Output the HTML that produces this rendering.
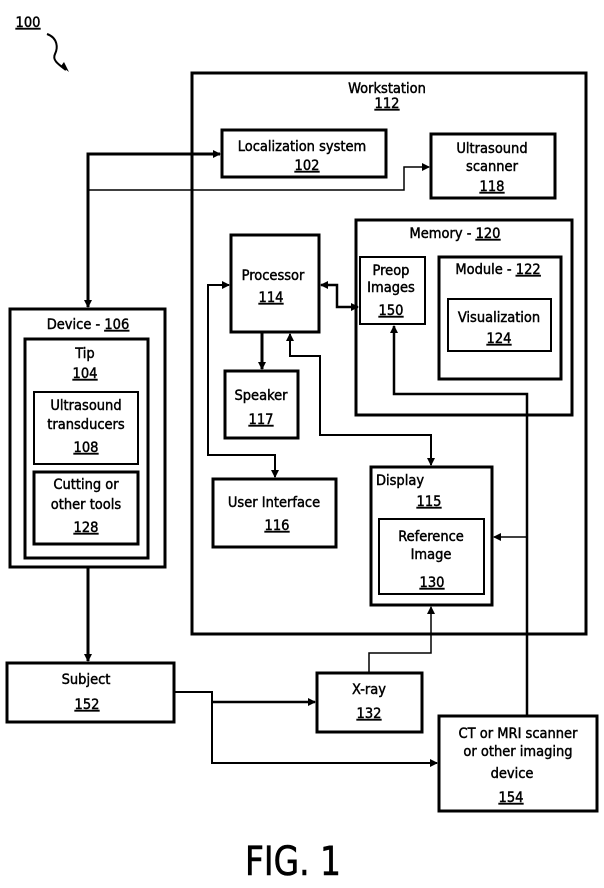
<!DOCTYPE html>
<html><head><meta charset="utf-8"><style>
html,body{margin:0;padding:0;background:#fff;}
svg{display:block;}
text{font-family:"DejaVu Sans Condensed","Liberation Sans",sans-serif;font-size:14.5px;fill:#000;stroke:#000;stroke-width:0.45;text-anchor:middle;}
.u{text-decoration:underline;}
</style></head><body>
<svg width="604" height="888" viewBox="0 0 604 888" xmlns="http://www.w3.org/2000/svg">
<defs>
<marker id="a" markerWidth="8" markerHeight="8" refX="7" refY="4" orient="auto" markerUnits="userSpaceOnUse">
<path d="M0,0 L8,4 L0,8 z" fill="#000"/></marker>
<marker id="s" markerWidth="8" markerHeight="8" refX="1" refY="4" orient="auto" markerUnits="userSpaceOnUse">
<path d="M8,0 L0,4 L8,8 z" fill="#000"/></marker>
</defs>
<g fill="none" stroke="#000">
<rect x="192" y="73" width="394" height="561" stroke-width="3"/>
<rect x="222" y="130" width="164" height="47" stroke-width="3"/>
<rect x="431" y="134" width="124" height="64" stroke-width="3"/>
<rect x="356" y="220" width="216" height="195" stroke-width="3"/>
<rect x="360" y="257" width="65" height="67" stroke-width="2"/>
<rect x="439" y="257" width="122" height="122" stroke-width="3"/>
<rect x="448" y="299" width="103" height="52" stroke-width="2"/>
<rect x="231" y="235" width="88" height="97" stroke-width="3"/>
<rect x="225" y="371" width="73" height="67" stroke-width="3"/>
<rect x="213" y="479" width="123" height="68" stroke-width="3"/>
<rect x="371" y="467" width="121" height="138" stroke-width="3"/>
<rect x="379" y="519" width="105" height="75" stroke-width="2"/>
<rect x="10" y="309" width="155" height="258" stroke-width="3"/>
<rect x="25" y="339" width="123" height="219" stroke-width="3"/>
<rect x="34" y="392" width="104" height="72" stroke-width="2"/>
<rect x="34" y="472" width="104" height="72" stroke-width="3"/>
<rect x="7" y="663" width="167" height="59" stroke-width="3"/>
<rect x="317" y="673" width="105" height="59" stroke-width="3"/>
<rect x="439" y="716" width="158" height="95" stroke-width="3"/>
<polyline points="88,307 88,154 220,154" stroke-width="3" marker-end="url(#a)" marker-start="url(#s)"/>
<polyline points="88,190 404,190 404,167 429,167" stroke-width="1.5" marker-end="url(#a)"/>
<polyline points="229,285 208,285 208,455 275,455 275,477" stroke-width="2" marker-start="url(#s)" marker-end="url(#a)"/>
<polyline points="321,285 337,285 337,307 358,307" stroke-width="2.5" marker-start="url(#s)" marker-end="url(#a)"/>
<polyline points="262,332 262,369" stroke-width="3" marker-end="url(#a)"/>
<polyline points="290,334 290,356 320,356 320,435 431,435 431,465" stroke-width="2" marker-start="url(#s)" marker-end="url(#a)"/>
<polyline points="394,326 394,394 527,394 527,716" stroke-width="2.5" marker-start="url(#s)"/>
<polyline points="527,537 494,537" stroke-width="1.5" marker-end="url(#a)"/>
<polyline points="88,567 88,661" stroke-width="3" marker-end="url(#a)"/>
<polyline points="174,692 212,692 212,763 437,763" stroke-width="2" marker-end="url(#a)"/>
<polyline points="212,702 315,702" stroke-width="2.5" marker-end="url(#a)"/>
<polyline points="369,673 369,653 431,653 431,607" stroke-width="1.5" marker-end="url(#a)"/>
<path d="M47,34 C58,38 58,48 55,54 C52,60 58,64 66,70" stroke-width="2"/>
<path d="M61,66 L69,72 L64,62 z" fill="#000" stroke="none"/>
</g>
<text x="28" y="27" class="u">100</text>
<text x="387" y="93">Workstation</text>
<text x="387" y="108" class="u">112</text>
<text x="302" y="151">Localization system</text>
<text x="307" y="170" class="u">102</text>
<text x="492" y="153">Ultrasound</text>
<text x="492" y="171">scanner</text>
<text x="492" y="191" class="u">118</text>
<text x="455" y="238">Memory - <tspan class="u">120</tspan></text>
<text x="391" y="275">Preop</text>
<text x="391" y="292">Images</text>
<text x="391" y="315" class="u">150</text>
<text x="498" y="274">Module - <tspan class="u">122</tspan></text>
<text x="499" y="322">Visualization</text>
<text x="499" y="343" class="u">124</text>
<text x="273" y="280">Processor</text>
<text x="271" y="302" class="u">114</text>
<text x="261" y="400">Speaker</text>
<text x="261" y="424" class="u">117</text>
<text x="88" y="329">Device - <tspan class="u">106</tspan></text>
<text x="85" y="358">Tip</text>
<text x="85" y="378" class="u">104</text>
<text x="86" y="410">Ultrasound</text>
<text x="86" y="429">transducers</text>
<text x="86" y="452" class="u">108</text>
<text x="86" y="489">Cutting or</text>
<text x="86" y="509">other tools</text>
<text x="86" y="532" class="u">128</text>
<text x="274" y="507">User Interface</text>
<text x="277" y="530" class="u">116</text>
<text x="400" y="485">Display</text>
<text x="429" y="506" class="u">115</text>
<text x="431" y="541">Reference</text>
<text x="431" y="559">Image</text>
<text x="432" y="587" class="u">130</text>
<text x="86" y="684">Subject</text>
<text x="87" y="709" class="u">152</text>
<text x="369" y="694">X-ray</text>
<text x="369" y="718" class="u">132</text>
<text x="518" y="738">CT or MRI scanner</text>
<text x="518" y="756">or other imaging</text>
<text x="512" y="778">device</text>
<text x="511" y="802" class="u">154</text>
<text x="293" y="875" style="font-size:40px;stroke-width:0.6" textLength="96" lengthAdjust="spacingAndGlyphs">FIG. 1</text>
</svg>
</body></html>
